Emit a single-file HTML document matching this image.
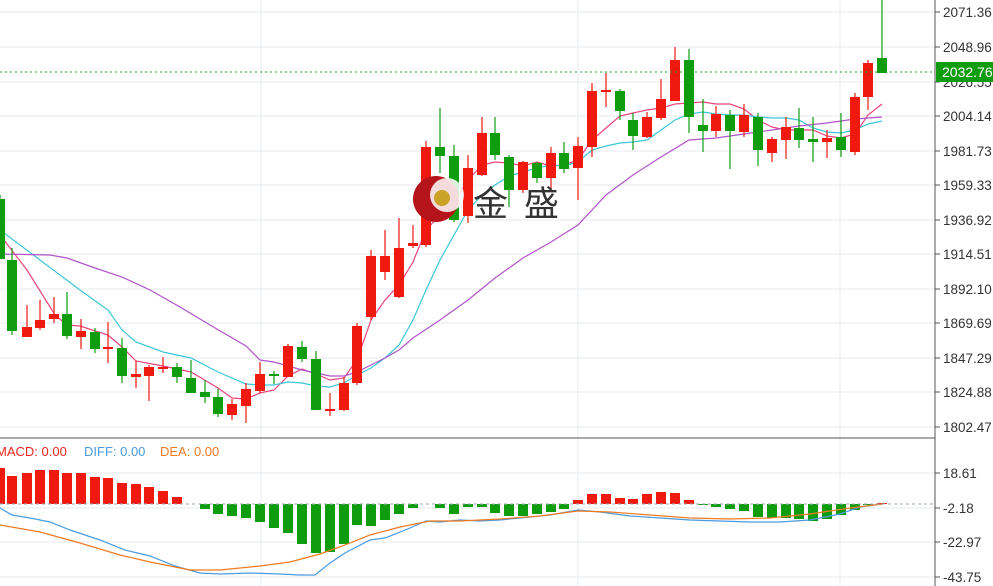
<!DOCTYPE html>
<html><head><meta charset="utf-8"><style>
html,body{margin:0;padding:0;background:#fff;width:993px;height:586px;overflow:hidden}
svg{display:block;font-family:"Liberation Sans","DejaVu Sans",sans-serif}
</style></head><body>
<svg id="s" width="993" height="586" viewBox="0 0 993 586" xmlns="http://www.w3.org/2000/svg">
<g id="grid" stroke="#e6eaf0" stroke-width="1"></g>
<g id="ma" fill="none" stroke-width="1.2"></g>
<g id="c"></g>
<g id="m"></g>
<!-- logo -->
<circle cx="436" cy="199" r="23" fill="#b5141a"/>
<circle cx="447" cy="195" r="17" fill="#fff" opacity="0.85"/>
<circle cx="442" cy="198" r="8" fill="#c9a227"/>
<text x="473" y="216" font-size="35" fill="#333" font-family="'Noto Sans CJK SC',sans-serif" letter-spacing="4">金 盛</text>
<line x1="935" y1="0" x2="935" y2="586" stroke="#555"/>
<line x1="0" y1="438" x2="935" y2="438" stroke="#555"/>
<line x1="0" y1="72" x2="935" y2="72" stroke="#22a022" stroke-dasharray="2,3"/>
<line x1="0" y1="504" x2="935" y2="504" stroke="#9ab" stroke-dasharray="3,3"/>
<g id="ax" font-size="13.5" fill="#333"></g>
<rect x="936" y="62" width="57" height="20" fill="#0f9d0f"/>
<text x="942" y="77" font-size="14" fill="#fff">2032.76</text>
<text x="-4" y="456" font-size="13" fill="#e8261e">MACD: 0.00</text>
<text x="84" y="456" font-size="13" fill="#4a9be0">DIFF: 0.00</text>
<text x="160" y="456" font-size="13" fill="#f07a22">DEA: 0.00</text>
</svg>
<script>
var NS="http://www.w3.org/2000/svg";
function el(p,t,a){var e=document.createElementNS(NS,t);for(var k in a)e.setAttribute(k,a[k]);document.getElementById(p).appendChild(e);return e;}
var ticks=[[12,"2071.36"],[47,"2048.96"],[82,"2026.55"],[116,"2004.14"],[151,"1981.73"],[185,"1959.33"],[220,"1936.92"],[254,"1914.51"],[289,"1892.10"],[323,"1869.69"],[358,"1847.29"],[392,"1824.88"],[427,"1802.47"],[473,"18.61"],[508,"-2.18"],[542,"-22.97"],[577,"-43.75"]];
ticks.forEach(function(t){el("grid","line",{x1:0,x2:935,y1:t[0],y2:t[0]});el("ax","line",{x1:935,x2:940,y1:t[0],y2:t[0],stroke:"#555"});var tx=el("ax","text",{x:943,y:t[0]+5});tx.textContent=t[1];});
[261,578,840].forEach(function(x){el("grid","line",{x1:x,x2:x,y1:0,y2:586});});
var R="#f0190f",G="#0f9d0f";
var C=[[0,199,259,195,259,G],[12,260,331,248,335,G],[27,327,337,305,337,R],[40,320,328,300,330,R],[54,314,319,297,323,R],[67,314,336,292,339,G],[81,331,337,319,349,R],[95,332,349,328,353,G],[108,347,349,322,363,R],[122,348,376,338,383,G],[136,374,377,361,388,R],[149,367,376,365,401,R],[163,367,369,357,373,R],[177,367,377,363,383,G],[191,378,393,360,393,G],[205,392,397,380,403,G],[218,397,414,389,417,G],[232,404,415,399,420,R],[246,389,406,383,423,R],[260,374,391,362,393,R],[274,374,376,371,384,G],[288,346,377,344,377,R],[302,347,359,341,362,G],[316,359,410,351,410,G],[330,409,411,393,416,R],[344,383,410,377,411,R],[357,326,383,323,385,R],[371,256,317,250,320,R],[385,256,272,230,280,R],[399,248,297,218,298,R],[413,243,246,225,248,R],[426,147,245,141,247,R],[440,147,156,108,173,G],[454,156,220,145,222,G],[468,168,216,155,223,R],[482,133,175,117,176,R],[495,133,155,117,160,G],[509,157,190,155,207,G],[523,162,190,161,193,R],[537,163,178,162,183,G],[551,153,178,147,190,R],[564,153,169,142,173,G],[578,146,168,137,200,R],[592,91,147,83,157,R],[606,90,92,73,107,R],[620,91,111,89,120,G],[633,120,136,113,150,G],[647,117,137,112,138,R],[661,99,118,79,120,R],[675,60,101,47,101,R],[689,60,117,49,133,G],[703,125,131,99,152,G],[716,114,131,106,137,R],[730,115,131,110,169,G],[744,115,132,104,137,R],[758,117,150,113,166,G],[772,139,153,137,162,R],[786,127,140,117,159,R],[799,128,140,108,148,G],[813,139,142,117,162,G],[827,138,142,130,158,R],[841,137,150,113,157,G],[855,97,152,93,155,R],[868,63,97,60,110,R],[882,58,73,0,73,G]];
C.forEach(function(c){el("c","line",{x1:c[0],x2:c[0],y1:c[3],y2:c[4],stroke:c[5],"stroke-width":1.2});el("c","rect",{x:c[0]-5,y:c[1],width:10,height:Math.max(2,c[2]-c[1]),fill:c[5]});});
function pl(g,pts,col){el(g,"polyline",{points:pts.map(function(p){return p.join(",")}).join(" "),stroke:col,fill:"none","stroke-width":1.2});}
pl("ma",[[0,235],[27,270],[55,315],[67,325],[80,326],[108,335],[122,347],[136,361],[163,366],[191,372],[218,388],[232,398],[246,399],[260,393],[274,390],[288,376],[302,369],[316,374],[330,380],[344,378],[357,360],[371,320],[385,300],[399,285],[413,262],[426,230],[440,215],[454,202],[468,180],[482,165],[495,162],[509,163],[523,166],[537,162],[551,166],[564,165],[578,160],[592,140],[606,128],[620,116],[633,113],[647,110],[661,108],[675,104],[689,103],[703,102],[716,104],[730,104],[744,109],[758,120],[772,127],[786,130],[799,130],[813,130],[827,136],[841,138],[855,134],[868,115],[882,104]],"#e8457a");
pl("ma",[[0,230],[40,260],[80,290],[108,310],[122,330],[136,342],[163,352],[191,358],[218,372],[246,384],[260,385],[274,385],[288,382],[302,383],[316,386],[330,387],[344,383],[357,375],[371,368],[385,358],[399,345],[413,320],[426,290],[440,260],[454,235],[468,210],[482,195],[495,185],[509,176],[523,172],[537,168],[551,165],[564,166],[578,162],[592,150],[606,146],[620,143],[633,142],[647,140],[661,130],[675,120],[689,114],[703,112],[716,114],[730,115],[744,115],[758,117],[772,118],[786,118],[799,120],[813,128],[827,132],[841,133],[855,130],[868,124],[882,121]],"#3cc6d8");
pl("ma",[[0,254],[50,255],[67,258],[95,268],[122,277],[150,290],[180,307],[210,325],[246,346],[260,360],[274,362],[288,366],[302,370],[316,373],[330,376],[344,376],[357,372],[371,365],[385,358],[399,350],[413,338],[440,320],[468,300],[495,278],[523,258],[551,242],[578,225],[606,195],[633,175],[661,157],[689,140],[716,138],[744,134],[772,130],[799,126],[827,123],[855,119],[882,117]],"#b054c8");
var M=[[0,468],[12,476],[27,473],[40,470],[54,470],[67,473],[81,473],[95,477],[108,478],[122,483],[136,484],[149,487],[163,491],[177,497],[205,509],[218,514],[232,516],[246,518],[260,522],[274,528],[288,533],[302,544],[316,553],[330,552],[344,544],[357,525],[371,526],[385,520],[399,514],[413,508],[440,508],[454,514],[468,507],[482,507],[495,513],[509,516],[523,516],[537,514],[551,512],[564,509],[578,500],[592,494],[606,494],[620,498],[633,499],[647,494],[661,492],[675,493],[689,500],[703,505],[716,507],[730,509],[744,511],[758,517],[772,518],[786,518],[799,519],[813,521],[827,519],[841,515],[855,510],[868,504],[882,503]];
M.forEach(function(b){var y0=504;var up=b[1]<y0;el("m","rect",{x:b[0]-5,y:Math.min(b[1],y0),width:10,height:Math.max(1,Math.abs(b[1]-y0)),fill:up?R:G});});
pl("m",[[0,508],[12,515],[30,518],[50,522],[70,530],[100,540],[125,550],[150,556],[175,566],[200,573],[220,574],[250,573],[280,574],[300,575],[315,575],[330,563],[345,553],[370,540],[385,538],[410,528],[426,521],[440,522],[460,520],[480,521],[500,520],[520,518],[550,515],[578,510],[600,512],[630,516],[660,518],[690,520],[720,521],[750,522],[780,522],[810,520],[840,514],[860,507],[882,504]],"#4a9be0");
pl("m",[[0,525],[40,532],[80,543],[120,555],[150,562],[190,570],[220,570],[260,566],[290,562],[320,554],[345,545],[370,535],[400,527],[430,521],[460,521],[500,519],[540,516],[578,511],[610,512],[650,515],[690,518],[730,519],[770,518],[810,514],[850,508],[882,504]],"#f07a22");
</script>
</body></html>
